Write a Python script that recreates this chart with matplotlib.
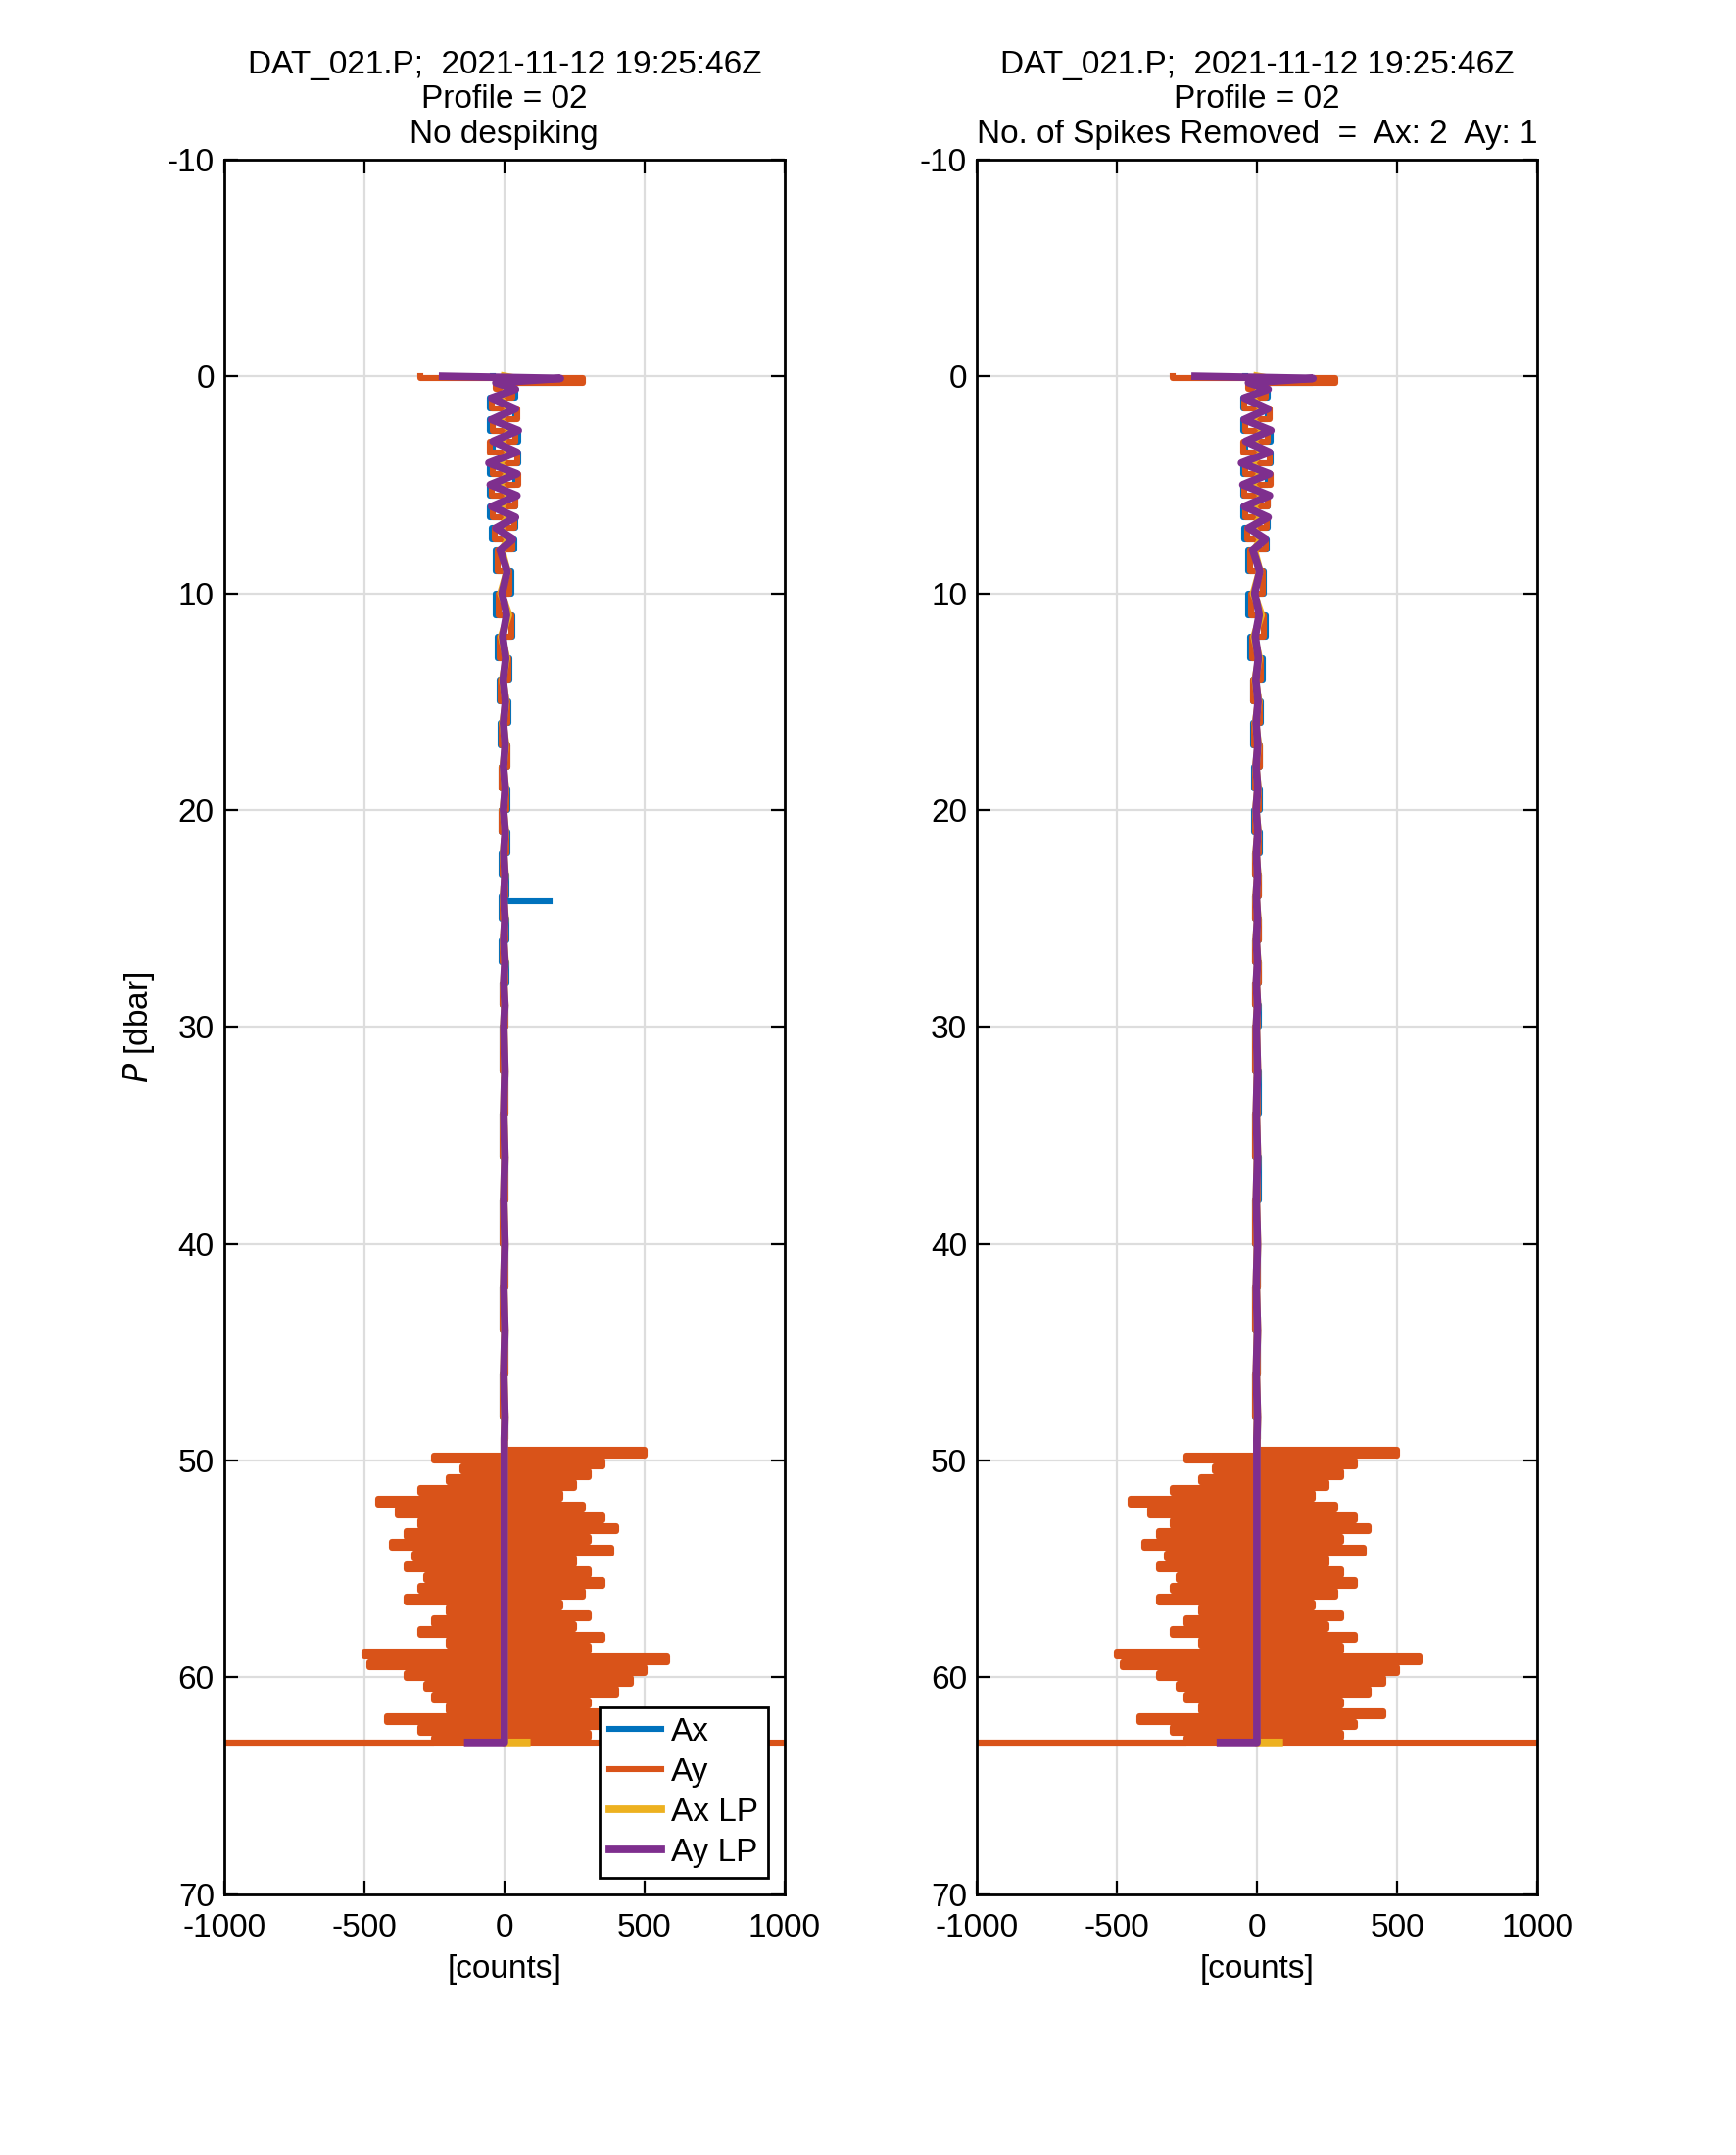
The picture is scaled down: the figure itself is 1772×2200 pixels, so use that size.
import numpy as np
import matplotlib
matplotlib.use("Agg")
import matplotlib.pyplot as plt

plt.rcParams['font.family'] = ['Liberation Sans', 'DejaVu Sans']
plt.rcParams['axes.unicode_minus'] = False

# ---- data ----
P_top = [0, 0.1, 0.3, 0.6, 1, 1.5, 2, 2.5, 3, 3.5, 4, 4.5, 5, 5.5, 6, 6.5, 7, 7.5, 8, 9, 10, 11, 12, 13, 14, 15,
         16, 17, 18, 19, 20, 21, 22, 23, 24, 25, 26, 27, 28, 29, 30, 32, 34, 36, 38, 40, 42, 44, 46, 48, 49]
Ax_top = [-40, 200, -20, 40, -50, 40, -50, 50, -40, 50, -50, 40, -50, 40, -50, 40, -45, 35, -30, 25, -30, 30,
          -25, 20, -15, 15, -12, 12, -10, 10, -10, 10, -8, 8, -8, 8, -8, 8, -6, 6, -6, 6, -6, 6, -5, 5, -5, 5, -5, 5, 0]
Ay_top = [-300, 280, -30, 30, -45, 45, -40, 40, -50, 45, -40, 50, -45, 40, -40, 35, -35, 30, -25, 20, -20, 25,
          -18, 15, -12, 12, -10, 10, -8, 8, -8, 8, -6, 6, -6, 6, -6, 6, -5, 5, -5, 5, -5, 5, -5, 5, -5, 5, -5, 5, 0]
AxLP_top = [0, 40, -10, 15, -20, 20, -20, 25, -15, 20, -20, 15, -20, 20, -15, 15, -15, 15, -10, 10, -12, 15,
            -10, 8, -6, 6, -5, 5, -4, 4, -4, 4, -3, 3, -3, 3, -3, 3, -2, 2, -2, 2, -2, 2, -2, 2, -2, 2, -2, 2, 0]
AyLP_top = [-220, 200, -30, 40, -45, 40, -45, 50, -40, 45, -55, 45, -50, 45, -45, 40, -30, 30, -15, 10, -8, 8,
            -6, 5, -4, 4, -3, 3, -3, 3, -3, 3, -2, 2, -2, 2, -2, 2, -2, 2, -2, 2, -2, 2, -2, 2, -2, 2, -2, 2, 0]

Ax_spike_P = [24.2, 24.2]
Ax_spike_val = [0, 160]

Ay_bot = [500, -250, 350, -150, 300, -200, 250, -300, 200, -450, 280, -380, 350, -300, 400, -350, 300, -400,
          380, -320, 250, -350, 300, -280, 350, -300, 280, -350, 200, -200, 300, -250, 250, -300, 350, -200,
          300, -500, 580, -480, 500, -350, 450, -280, 400, -250, 300, -200, 450, -420, 350, -300, 300, -250]
Ax_bot = [10, -10, 12, -12, 10, -10, 12, -12, 10, -10, 12, -12, 10, -10, 12, -12, 10, -10,
          12, -12, 10, -10, 12, -12, 10, -10, 12, -12, 10, -10, 12, -12, 10, -10, 12, -12,
          10, -10, 12, -12, 10, -10, 12, -12, 10, -10, 12, -12, 10, -10, 12, -12, 10, -10]
P_end = [63.0, 63.0]
Ay_end = [-1000, 1000]
AxLP_end = [0, 80]
AyLP_end = [0, -130]

xt = [-1000, -500, 0, 500, 1000]
xtl = ['-1000', '-500', '0', '500', '1000']
yt = [-10, 0, 10, 20, 30, 40, 50, 60, 70]

C_AX, C_AY, C_AXLP, C_AYLP = '#0072BD', '#D95319', '#EDB120', '#7E2F8E'

P_bot = np.linspace(49.5, 62.8, len(Ay_bot))

def build():
    P = list(P_top) + list(P_bot) + P_end
    ax_ = list(Ax_top) + list(Ax_bot) + [0, 0]
    ay_ = list(Ay_top) + list(Ay_bot) + Ay_end
    axlp = list(AxLP_top) + [0] * len(P_bot) + AxLP_end
    aylp = list(AyLP_top) + [0] * len(P_bot) + AyLP_end
    return P, ax_, ay_, axlp, aylp

fig = plt.figure(figsize=(8.86, 11.0), dpi=200)
axes = [fig.add_axes([0.129, 0.121, 0.323, 0.805]), fig.add_axes([0.5625, 0.121, 0.323, 0.805])]
titles = ['DAT_021.P;  2021-11-12 19:25:46Z\nProfile = 02\nNo despiking',
          'DAT_021.P;  2021-11-12 19:25:46Z\nProfile = 02\nNo. of Spikes Removed  =  Ax: 2  Ay: 1']
for i, a in enumerate(axes):
    P, ax_, ay_, axlp, aylp = build()
    a.plot(ax_, P, color=C_AX, lw=2.2, label='Ax', drawstyle='steps-pre')
    if i == 0:
        a.plot(Ax_spike_val, Ax_spike_P, color=C_AX, lw=2.2)
    a.plot(ay_, P, color=C_AY, lw=2.2, label='Ay', drawstyle='steps-pre')
    a.plot(axlp, P, color=C_AXLP, lw=2.8, label='Ax LP')
    a.plot(aylp, P, color=C_AYLP, lw=2.8, label='Ay LP')
    a.set_xlim(-1000, 1000)
    a.set_ylim(70, -10)
    a.set_xticks(xt)
    a.set_xticklabels(xtl)
    a.set_yticks(yt)
    a.grid(True, color='#dddddd', lw=0.8)
    a.set_axisbelow(True)
    a.tick_params(direction='in', top=True, right=True, labelsize=12, length=5)
    a.tick_params(axis='x', pad=7)
    for s in a.spines.values():
        s.set_linewidth(1.0)
    a.set_xlabel('[counts]', fontsize=12)
    a.set_title(titles[i], fontsize=12, linespacing=1.2)
    if i == 0:
        a.set_ylabel('$P$ [dbar]', fontsize=12)
        leg = a.legend(loc='lower right', fontsize=12, fancybox=False, edgecolor='black',
                       framealpha=1, handlelength=1.6, handletextpad=0.3, borderpad=0.3, labelspacing=0.3)
        leg.get_frame().set_linewidth(1.0)
fig.savefig('out.png', dpi=200)
